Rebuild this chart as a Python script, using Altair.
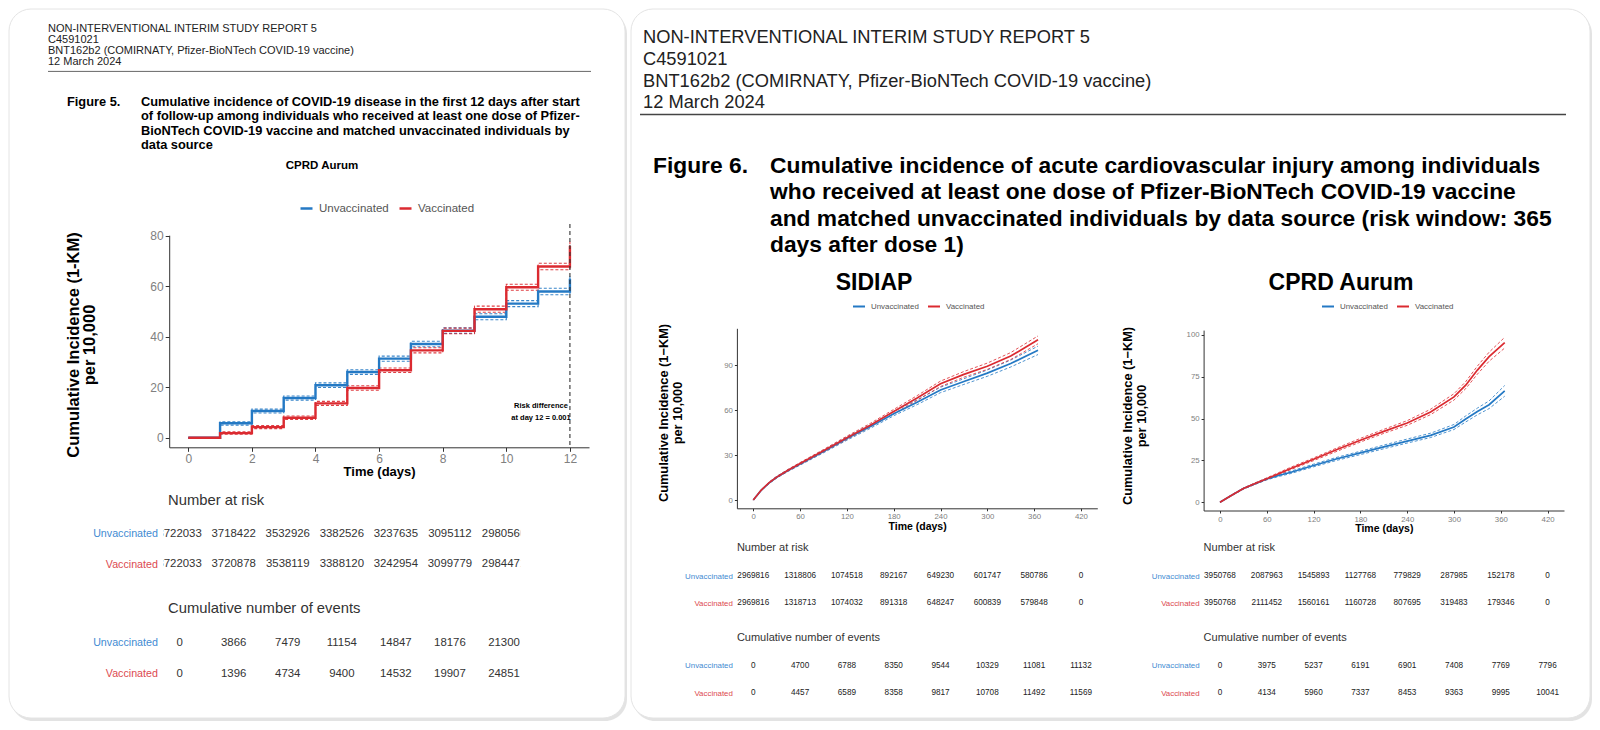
import altair as alt
import pandas as pd

# ---------------------------------------------------------------- text
GROUPS = ["Unvaccinated", "Vaccinated"]
HEADER_LINES = ["NON-INTERVENTIONAL INTERIM STUDY REPORT 5", "C4591021",
                "BNT162b2 (COMIRNATY, Pfizer-BioNTech COVID-19 vaccine)", "12 March 2024"]
FIG5_LABEL = "Figure 5."
FIG5_TITLE = ["Cumulative incidence of COVID-19 disease in the first 12 days after start",
              "of follow-up among individuals who received at least one dose of Pfizer-",
              "BioNTech COVID-19 vaccine and matched unvaccinated individuals by",
              "data source"]
FIG6_LABEL = "Figure 6."
FIG6_TITLE = ["Cumulative incidence of acute cardiovascular injury among individuals",
              "who received at least one dose of Pfizer-BioNTech COVID-19 vaccine",
              "and matched unvaccinated individuals by data source (risk window: 365",
              "days after dose 1)"]
SOURCES = ["CPRD Aurum", "SIDIAP", "CPRD Aurum"]
Y_TITLE_5 = ["Cumulative Incidence (1-KM)", "per 10,000"]
Y_TITLE_6 = ["Cumulative Incidence (1\u2212KM)", "per 10,000"]
X_TITLE = "Time (days)"
RISK_TITLE = "Number at risk"
EVENTS_TITLE = "Cumulative number of events"
RISK_NOTE = ["Risk difference", "at day 12 = 0.001"]
RISK_NOTE_DAY = [12]

# ---------------------------------------------------------------- Figure 5 data
F5_DAYS = [0, 1, 2, 3, 4, 5, 6, 7, 8, 9, 10, 11, 12]
F5_UNVAC = [0, 5.7, 10.6, 15.7, 20.8, 26.0, 31.3, 37.1, 42.4, 47.9, 53.1, 57.9, 63.0]
F5_UNVAC_LO = [0, 5.0, 9.8, 14.9, 19.9, 25.1, 30.3, 36.0, 41.3, 46.7, 51.9, 56.6, 61.5]
F5_UNVAC_HI = [0, 6.3, 11.3, 16.5, 21.7, 26.9, 32.3, 38.2, 43.5, 49.1, 54.3, 59.2, 64.5]
F5_VAC = [0, 1.8, 4.2, 7.9, 13.6, 19.7, 26.7, 34.6, 42.3, 50.9, 59.6, 67.8, 76.0]
F5_VAC_LO = [0, 1.4, 3.6, 7.2, 12.8, 18.8, 25.8, 33.6, 41.2, 49.7, 58.4, 66.5, 74.3]
F5_VAC_HI = [0, 2.3, 4.8, 8.6, 14.4, 20.6, 27.6, 35.6, 43.4, 52.1, 60.8, 69.1, 77.7]
F5_X_TICKS = [0, 2, 4, 6, 8, 10, 12]
F5_Y_TICKS = [0, 20, 40, 60, 80]
F5_TABLE_DAYS = [0, 2, 4, 6, 8, 10, 12]
F5_RISK_UNVAC = [3722033, 3718422, 3532926, 3382526, 3237635, 3095112, 2980560]
F5_RISK_VAC = [3722033, 3720878, 3538119, 3388120, 3242954, 3099779, 2984471]
F5_EVENTS_UNVAC = [0, 3866, 7479, 11154, 14847, 18176, 21300]
F5_EVENTS_VAC = [0, 1396, 4734, 9400, 14532, 19907, 24851]

# ---------------------------------------------------------------- Figure 6 data
S_DAYS = [0, 10, 20, 30, 45, 60, 90, 120, 150, 180, 210, 240, 270, 300, 330, 365]
S_UNVAC = [0, 6.4, 11.3, 15.2, 19.8, 24.0, 32.4, 41.0, 49.0, 57.6, 65.2, 73.4, 79.0, 84.6, 91.0, 99.8]
S_UNVAC_LO = [0, 6.1, 10.9, 14.7, 19.2, 23.3, 31.5, 39.9, 47.8, 56.2, 63.6, 71.6, 77.1, 82.5, 88.7, 97.0]
S_UNVAC_HI = [0, 6.7, 11.7, 15.7, 20.4, 24.7, 33.3, 42.1, 50.2, 59.0, 66.8, 75.2, 80.9, 86.7, 93.3, 102.6]
S_VAC = [0, 6.5, 11.5, 15.3, 20.0, 24.3, 32.8, 41.5, 49.9, 59.0, 68.0, 77.5, 83.8, 89.2, 96.0, 106.8]
S_VAC_LO = [0, 6.2, 11.1, 14.8, 19.4, 23.6, 31.9, 40.4, 48.7, 57.6, 66.4, 75.7, 81.9, 87.1, 93.7, 104.2]
S_VAC_HI = [0, 6.8, 11.9, 15.8, 20.6, 25.0, 33.7, 42.6, 51.1, 60.4, 69.6, 79.3, 85.7, 91.3, 98.3, 109.4]

C_DAYS = [0, 15, 30, 45, 60, 75, 90, 120, 150, 180, 210, 240, 270, 300, 315, 330, 345, 365]
C_UNVAC = [0, 4.2, 8.2, 11.1, 13.9, 16.0, 17.8, 22.0, 26.0, 29.5, 33.1, 36.6, 40.0, 45.0, 49.8, 54.3, 58.3, 66.6]
C_UNVAC_LO = [0, 4.0, 7.9, 10.7, 13.4, 15.4, 17.1, 21.2, 25.1, 28.5, 32.0, 35.4, 38.7, 43.5, 48.0, 52.3, 56.0, 63.4]
C_UNVAC_HI = [0, 4.4, 8.5, 11.5, 14.4, 16.6, 18.5, 22.8, 26.9, 30.5, 34.2, 37.8, 41.3, 46.5, 51.6, 56.3, 60.6, 69.8]
C_VAC = [0, 4.2, 8.2, 11.2, 14.1, 17.1, 20.1, 25.7, 31.5, 37.1, 42.4, 47.4, 54.0, 63.0, 70.0, 79.0, 87.0, 95.4]
C_VAC_LO = [0, 4.0, 7.9, 10.8, 13.6, 16.5, 19.4, 24.9, 30.5, 36.0, 41.2, 46.0, 52.4, 61.1, 67.9, 76.6, 84.3, 92.2]
C_VAC_HI = [0, 4.4, 8.5, 11.6, 14.6, 17.7, 20.8, 26.5, 32.5, 38.2, 43.6, 48.8, 55.6, 64.9, 72.1, 81.4, 89.7, 98.6]

F6_X_TICKS = [0, 60, 120, 180, 240, 300, 360, 420]
S_Y_TICKS = [0, 30, 60, 90]
C_Y_TICKS = [0, 25, 50, 75, 100]
F6_TABLE_DAYS = [0, 60, 120, 180, 240, 300, 360, 420]
S_RISK_UNVAC = [2969816, 1318806, 1074518, 892167, 649230, 601747, 580786, 0]
S_RISK_VAC = [2969816, 1318713, 1074032, 891318, 648247, 600839, 579848, 0]
S_EVENTS_UNVAC = [0, 4700, 6788, 8350, 9544, 10329, 11081, 11132]
S_EVENTS_VAC = [0, 4457, 6589, 8358, 9817, 10708, 11492, 11569]
C_RISK_UNVAC = [3950768, 2087963, 1545893, 1127768, 779829, 287985, 152178, 0]
C_RISK_VAC = [3950768, 2111452, 1560161, 1160728, 807695, 319483, 179346, 0]
C_EVENTS_UNVAC = [0, 3975, 5237, 6191, 6901, 7408, 7769, 7796]
C_EVENTS_VAC = [0, 4134, 5960, 7337, 8453, 9363, 9995, 10041]

# ---------------------------------------------------------------- styling
FONT = "Liberation Sans, Arial, Helvetica, sans-serif"
W, H = 1584, 714
M = 8                      # page margin (page pixel -> chart pixel)
BLUE, RED = "#2479c4", "#db2a30"
BLUE_TXT, RED_TXT = "#3f8bd2", "#dc4a50"
dummy = pd.DataFrame({"k": [0]})


def c(v):
    return v - M


def txt(text, x, y, size, weight="normal", align="left", color="#222", lh=None, angle=None):
    kw = dict(text=text, x=c(x), y=c(y), fontSize=size, fontWeight=weight, align=align,
              baseline="middle", color=color, font=FONT)
    if lh:
        kw["lineHeight"] = lh
    if angle is not None:
        kw["angle"] = angle
    return alt.Chart(dummy).mark_text(**kw)


def rect(x1, x2, y1, y2, fill, stroke=None, r=0, opacity=1.0):
    kw = dict(cornerRadius=r, fill=fill, opacity=opacity)
    if stroke:
        kw.update(stroke=stroke, strokeWidth=1)
    return alt.Chart(dummy).mark_rect(**kw).encode(
        x=alt.value(c(x1)), x2=alt.value(c(x2)), y=alt.value(c(y1)), y2=alt.value(c(y2)))


def hrule(x1, x2, y, color, w):
    return alt.Chart(dummy).mark_rule(color=color, strokeWidth=w).encode(
        x=alt.value(c(x1)), x2=alt.value(c(x2)), y=alt.value(c(y)))


def curves(t, unvac, vac):
    return pd.DataFrame({"t": list(t) * 2,
                         "group": [GROUPS[0]] * len(t) + [GROUPS[1]] * len(t),
                         "v": list(unvac) + list(vac)})


def bands(t, ulo, uhi, vlo, vhi):
    parts = []
    for g, k, vals in [(GROUPS[0], "lo", ulo), (GROUPS[0], "hi", uhi),
                       (GROUPS[1], "lo", vlo), (GROUPS[1], "hi", vhi)]:
        parts.append(pd.DataFrame({"t": t, "group": g, "kind": k, "v": vals}))
    return pd.concat(parts, ignore_index=True)


def x_axis(y_page, ticks, lab, title_size, tick=3):
    return alt.Axis(orient="bottom", offset=c(y_page) - H, values=ticks, grid=False, zindex=1,
                    domainColor="#333", domainWidth=1, tickColor="#333", tickSize=tick,
                    labelColor="#808080", labelFontSize=lab, labelFont=FONT, labelPadding=2,
                    labelFlush=False, labelOverlap=False,
                    title=X_TITLE, titleFont=FONT, titleFontSize=title_size, titleFontWeight="bold",
                    titleColor="black", titlePadding=1)


def y_axis(x_page, ticks, lab, tick=3):
    return alt.Axis(orient="left", offset=-c(x_page), values=ticks, grid=False, zindex=1,
                    domainColor="#333", domainWidth=1, tickColor="#333", tickSize=tick,
                    labelColor="#808080", labelFontSize=lab, labelFont=FONT, labelPadding=2,
                    labelFlush=False, labelOverlap=False, title=None)


def legend(x_page, y_page, size, sym, gap, offs, sw):
    return alt.Legend(orient="none", legendX=c(x_page), legendY=c(y_page), direction="horizontal",
                      title=None, symbolType="stroke", symbolSize=sym * sym, symbolStrokeWidth=sw,
                      labelFontSize=size, labelFont=FONT, labelColor="#555", columnPadding=gap,
                      labelOffset=offs, padding=0)


def scale(dom, rng):
    return alt.Scale(domain=dom, range=[c(rng[0]), c(rng[1])], nice=False, zero=False)


def km_panel(est, ci, xdom, xr, ydom, yr, xax, yax, leg, interp, w_main, w_ci):
    """Solid estimate (with axes + legend) and dashed confidence limits, as flat layers."""
    col = alt.Scale(domain=GROUPS, range=[BLUE, RED])
    line = alt.Chart(est).mark_line(interpolate=interp, strokeWidth=w_main).encode(
        x=alt.X("t:Q", scale=scale(xdom, xr), axis=xax),
        y=alt.Y("v:Q", scale=scale(ydom, yr), axis=yax),
        color=alt.Color("group:N", scale=col, legend=leg))
    band = alt.Chart(ci).mark_line(interpolate=interp, strokeWidth=w_ci, strokeDash=[3, 2],
                                   opacity=0.9).encode(
        x=alt.X("t:Q", scale=scale(xdom, xr), axis=None),
        y=alt.Y("v:Q", scale=scale(ydom, yr), axis=None),
        color=alt.Color("group:N", scale=col, legend=None), detail="kind:N")
    return [band, line]


def table(days, unvac, vac, xdom, xr, y1, y2, lab, num, pad, color="#333"):
    df = pd.DataFrame({"t": list(days) * 2,
                       "group": [GROUPS[0]] * len(days) + [GROUPS[1]] * len(days),
                       "txt": [str(v) for v in list(unvac) + list(vac)]})
    ys = alt.Scale(type="point", domain=GROUPS, range=[c(y1), c(y2)], padding=0)
    yax = alt.Axis(orient="left", offset=-c(xr[0]), domain=False, ticks=False, grid=False, zindex=1,
                   labelPadding=pad, labelFontSize=lab, labelFont=FONT, title=None,
                   labelColor={"condition": {"test": "datum.value == 'Unvaccinated'", "value": BLUE_TXT},
                               "value": RED_TXT})
    return alt.Chart(df).mark_text(fontSize=num, font=FONT, color=color).encode(
        x=alt.X("t:Q", scale=scale(xdom, xr), axis=None), y=alt.Y("group:N", scale=ys, axis=yax),
        text="txt:N")


layers = []

# ---------------------------------------------------------------- cards
layers += [rect(11, 627, 12, 721, "#dedede", r=22, opacity=0.85),
           rect(633, 1592, 12, 721, "#dedede", r=22, opacity=0.85),
           rect(9, 625, 9, 718, "white", stroke="#e4e4e4", r=22),
           rect(631, 1590, 9, 718, "white", stroke="#e4e4e4", r=22)]

# ---------------------------------------------------------------- Figure 5 (left card)
F5_XDOM, F5_XR = [-0.6, 12.6], [169.2, 589]
F5_YDOM, F5_YR = [-3.8, 80.2], [447.3, 235.2]
layers += [txt(HEADER_LINES, 48, 28.5, 11, lh=11.2, color="#222"),
           hrule(48, 591, 71.4, "#666", 1),
           txt(FIG5_LABEL, 67, 102, 12.8, weight="bold", color="black"),
           txt(FIG5_TITLE, 141, 102, 12.8, weight="bold", color="black", lh=14.3),
           txt(SOURCES[0], 322, 166, 11.5, weight="bold", align="center", color="black"),
           txt(Y_TITLE_5, 73.5, 345, 16.5, weight="bold", align="center", color="black", lh=16.3, angle=270)]

layers += km_panel(curves(F5_DAYS, F5_UNVAC, F5_VAC),
                   bands(F5_DAYS, F5_UNVAC_LO, F5_UNVAC_HI, F5_VAC_LO, F5_VAC_HI),
                   F5_XDOM, F5_XR, F5_YDOM, F5_YR,
                   x_axis(447.3, F5_X_TICKS, 12, 13, 4), y_axis(169.2, F5_Y_TICKS, 12, 4),
                   legend(299, 201, 11.5, 12, 5, 5, 2.5), "step-after", 2.4, 1.1)
layers.append(alt.Chart(pd.DataFrame({"t": RISK_NOTE_DAY})).mark_rule(
    color="#333", strokeDash=[4, 3], strokeWidth=1.1).encode(
    x=alt.X("t:Q", scale=scale(F5_XDOM, F5_XR), axis=None), y=alt.value(c(224)), y2=alt.value(c(447))))
layers.append(txt(RISK_NOTE, 541, 406, 7.5, weight="bold", align="center", color="black", lh=12))

# the risk table of Figure 5 has its own, narrower time axis (its panel clips the outer columns)
F5_TR = [163.4, 520.2]
layers += [txt(RISK_TITLE, 168, 501, 14.8, color="#333"),
           table(F5_TABLE_DAYS, F5_RISK_UNVAC, F5_RISK_VAC, F5_XDOM, F5_TR, 533.7, 564.3, 10.7, 11.4, 6),
           txt(EVENTS_TITLE, 168, 609, 14.8, color="#333"),
           table(F5_TABLE_DAYS, F5_EVENTS_UNVAC, F5_EVENTS_VAC, F5_XDOM, F5_TR, 642.9, 673.5, 10.7, 11.4, 6),
           rect(150, 163.4, 522, 578, "white"),
           rect(520.2, 560, 522, 578, "white")]

# ---------------------------------------------------------------- Figure 6 (right card)
layers += [txt(HEADER_LINES, 643, 38, 18.3, lh=21.8, color="#222"),
           hrule(640, 1566, 114.5, "#444", 1.5),
           txt(FIG6_LABEL, 653, 165.5, 22.8, weight="bold", color="black"),
           txt(FIG6_TITLE, 770, 165.5, 22.8, weight="bold", color="black", lh=26.5),
           txt(SOURCES[1], 874, 283, 23, weight="bold", align="center", color="black"),
           txt(SOURCES[2], 1341, 283, 23, weight="bold", align="center", color="black"),
           txt(Y_TITLE_6, 664, 413, 12.8, weight="bold", align="center", color="black", lh=14, angle=270),
           txt(Y_TITLE_6, 1128, 416, 12.8, weight="bold", align="center", color="black", lh=14, angle=270)]

F6_XDOM = [-21, 441]
S_XR, S_YDOM, S_YR = [736.9, 1097.3], [-5.5, 114.5], [508.3, 328.3]
C_XR, C_YDOM, C_YR = [1203.6, 1564.0], [-4.9, 102.9], [510.5, 330.1]

layers += km_panel(curves(S_DAYS, S_UNVAC, S_VAC),
                   bands(S_DAYS, S_UNVAC_LO, S_UNVAC_HI, S_VAC_LO, S_VAC_HI),
                   F6_XDOM, S_XR, S_YDOM, S_YR,
                   x_axis(S_YR[0], F6_X_TICKS, 7.8, 10.5, 2.5), y_axis(S_XR[0], S_Y_TICKS, 7.8, 2.5),
                   legend(852, 299.5, 7.9, 12, 5, 5, 2), "linear", 1.7, 0.9)
layers += km_panel(curves(C_DAYS, C_UNVAC, C_VAC),
                   bands(C_DAYS, C_UNVAC_LO, C_UNVAC_HI, C_VAC_LO, C_VAC_HI),
                   F6_XDOM, C_XR, C_YDOM, C_YR,
                   x_axis(C_YR[0], F6_X_TICKS, 7.8, 10.5, 2.5), y_axis(C_XR[0], C_Y_TICKS, 7.8, 2.5),
                   legend(1321, 299.5, 7.9, 12, 5, 5, 2), "linear", 1.7, 0.9)

for xr, risk_u, risk_v, ev_u, ev_v in [
        (S_XR, S_RISK_UNVAC, S_RISK_VAC, S_EVENTS_UNVAC, S_EVENTS_VAC),
        (C_XR, C_RISK_UNVAC, C_RISK_VAC, C_EVENTS_UNVAC, C_EVENTS_VAC)]:
    layers += [txt(RISK_TITLE, xr[0], 548.3, 11, color="#333"),
               table(F6_TABLE_DAYS, risk_u, risk_v, F6_XDOM, xr, 576, 603.3, 7.9, 8.2, 4.5, "#222"),
               txt(EVENTS_TITLE, xr[0], 638.3, 11, color="#333"),
               table(F6_TABLE_DAYS, ev_u, ev_v, F6_XDOM, xr, 665.7, 693.3, 7.9, 8.2, 4.5, "#222")]

chart = alt.layer(*layers).resolve_scale(
    x="independent", y="independent", color="independent"
).resolve_axis(x="independent", y="independent").resolve_legend(color="independent").properties(
    width=W, height=H, padding=0, autosize=alt.AutoSizeParams(type="none"), background="white"
).configure_view(stroke=None)

chart.save("out.html", embed_options={"renderer": "svg", "actions": False})
